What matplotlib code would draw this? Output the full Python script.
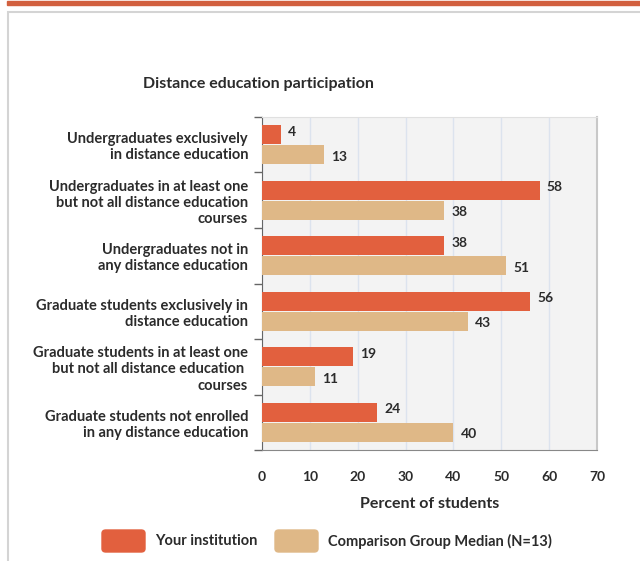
import matplotlib.pyplot as plt
import numpy as np
from matplotlib.patches import Rectangle, FancyBboxPatch

plt.rcParams['font.family'] = ['Lato', 'DejaVu Sans']

categories = [
    'Undergraduates exclusively\nin distance education',
    'Undergraduates in at least one\nbut not all distance education\ncourses',
    'Undergraduates not in\nany distance education',
    'Graduate students exclusively in\ndistance education',
    'Graduate students in at least one\nbut not all distance education \ncourses',
    'Graduate students not enrolled\nin any distance education',
]
your_institution = [4, 58, 38, 56, 19, 24]
comparison_median = [13, 38, 51, 43, 11, 40]
series_names = ['Your institution', 'Comparison Group Median (N=13)']

ORANGE = '#e2603e'
TAN = '#dfb887'
TEXT = '#2b2b2b'

W, H = 640, 561
fig = plt.figure(figsize=(W / 100, H / 100), dpi=100)

# page decoration: orange stripe and grey frame
fig.patches.append(Rectangle((7 / W, 1 - 5 / H), 1, 4 / H, transform=fig.transFigure,
                             color='#d2603f', zorder=0))
fig.patches.append(Rectangle((8 / W, -0.01), 1, 1 - 12 / H + 0.01, transform=fig.transFigure,
                             fill=False, ec='#d4d4d4', lw=1.5, zorder=0))

ax = fig.add_axes([262 / W, 1 - 450 / H, 335 / W, 333 / H])
ax.set_facecolor('#f3f3f3')

y = np.arange(len(categories))
h = 0.35
ax.barh(y - 0.18, your_institution, height=h, color=ORANGE, zorder=3)
ax.barh(y + 0.18, comparison_median, height=h, color=TAN, zorder=3)

for yi, v in zip(y, your_institution):
    ax.text(v + 1.5, yi - 0.23, str(v), va='center', ha='left', fontsize=10,
            fontweight='bold', color=TEXT)
for yi, v in zip(y, comparison_median):
    ax.text(v + 1.5, yi + 0.22, str(v), va='center', ha='left', fontsize=10,
            fontweight='bold', color=TEXT)

ax.set_xlim(0, 70)
ax.set_ylim(len(categories) - 0.5, -0.5)
ax.set_xticks(range(0, 71, 10))
ax.set_yticks(y)
ax.set_yticklabels(categories, fontsize=10.5, fontweight='bold', color=TEXT,
                   linespacing=1.2)
ax.set_yticks(np.arange(-0.5, len(categories), 1), minor=True)
ax.tick_params(axis='y', which='major', length=0, pad=10)
ax.tick_params(axis='y', which='minor', length=6, color='#666666', width=1)
ax.tick_params(axis='x', length=0, pad=15, labelsize=10, labelcolor=TEXT)
for lab in ax.get_xticklabels():
    lab.set_fontweight('bold')

ax.grid(True, axis='x', color='#dce3ee', lw=1, zorder=0)
ax.spines['left'].set_color('#666666')
ax.spines['bottom'].set_color('#888888')
ax.spines['top'].set_color('#e0e0e0')
ax.spines['right'].set_color('#c8c8c8')
ax.spines['right'].set_linewidth(1.5)

ax.set_xlabel('Percent of students', fontsize=11.5, fontweight='bold', color=TEXT,
              labelpad=10)
fig.text(143 / W, 1 - 84 / H, 'Distance education participation', fontsize=11.5,
         fontweight='bold', color=TEXT, va='center', ha='left')

# legend
for (x0, name, col) in [(102, series_names[0], ORANGE), (275, series_names[1], TAN)]:
    fig.patches.append(FancyBboxPatch((x0 / W, 1 - 552 / H), 43 / W, 22 / H,
                                      boxstyle='round,pad=0,rounding_size=0.006',
                                      transform=fig.transFigure, color=col))
    fig.text((x0 + 53) / W, 1 - 541 / H, name, fontsize=10.5, fontweight='bold',
             color=TEXT, va='center', ha='left')

fig.savefig('out.png', dpi=100)
